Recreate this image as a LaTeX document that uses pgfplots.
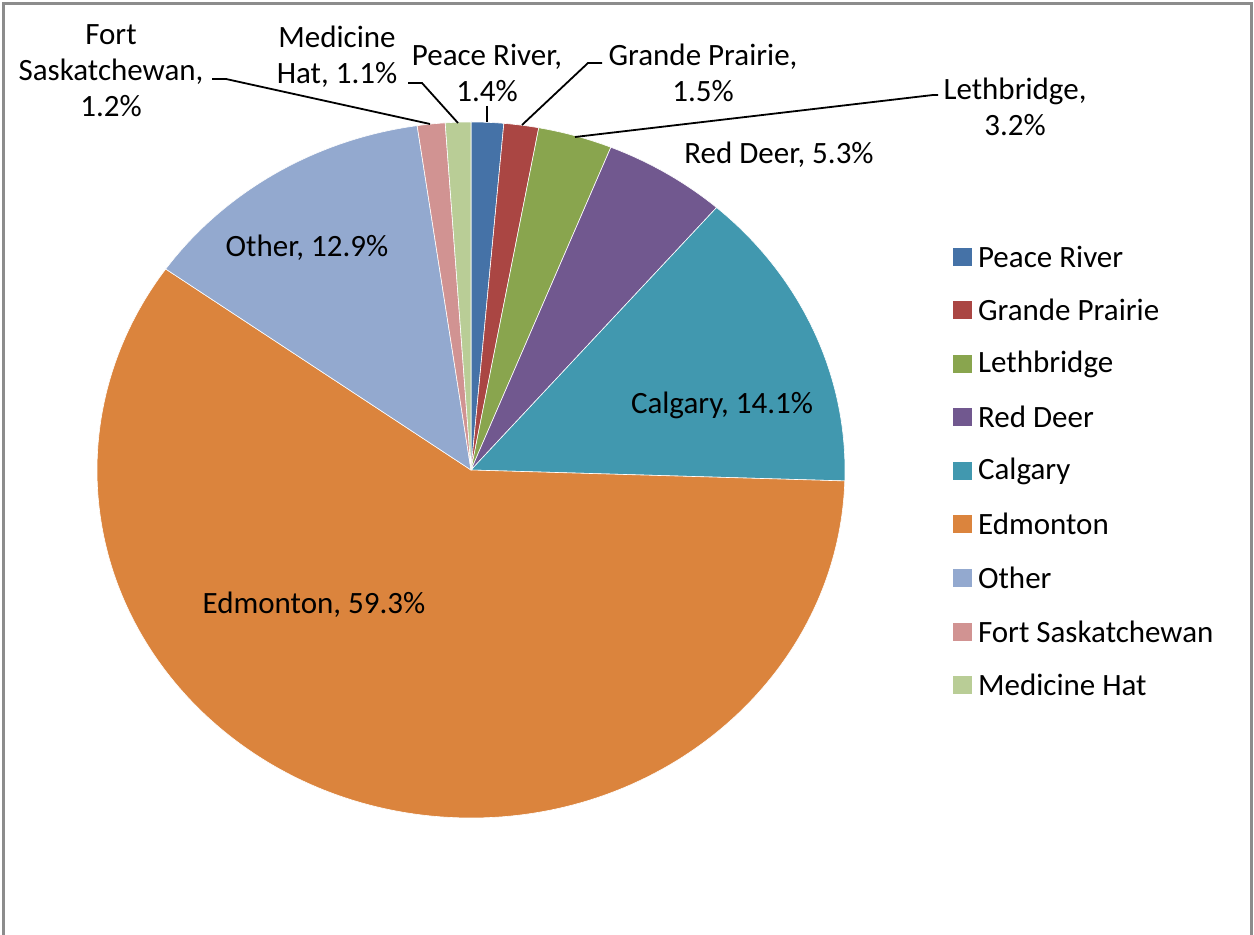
\documentclass[border=0pt]{standalone}
\usepackage{pgfplots}
\pgfplotsset{compat=1.18}
\usepackage{pgfplotstable}
\usepackage{fontspec}
\setmainfont{Carlito}

\definecolor{c0}{HTML}{4572A7}
\definecolor{c1}{HTML}{AA4643}
\definecolor{c2}{HTML}{89A54E}
\definecolor{c3}{HTML}{71588F}
\definecolor{c4}{HTML}{4198AF}
\definecolor{c5}{HTML}{DB843D}
\definecolor{c6}{HTML}{93A9CF}
\definecolor{c7}{HTML}{D19392}
\definecolor{c8}{HTML}{B9CD96}
\definecolor{frame}{RGB}{140,140,140}

% share of each city, clockwise from 12 o'clock
\pgfplotstableread{
idx value
0 1.4
1 1.5
2 3.2
3 5.3
4 14.1
5 59.3
6 12.9
7 1.2
8 1.1
}\piedata

\begin{document}
\begin{tikzpicture}[font=\fontsize{15.5}{18}\selectfont]
% start/end angles of the slices
\gdef\cum{0}
\foreach \i in {0,...,8}{%
  \pgfplotstablegetelem{\i}{value}\of\piedata
  \pgfmathsetmacro\s{90-3.6*\cum}
  \pgfmathsetmacro\e{90-3.6*(\cum+\pgfplotsretval)}
  \expandafter\xdef\csname sa\i\endcsname{\s}
  \expandafter\xdef\csname ea\i\endcsname{\e}
  \pgfmathsetmacro\c{\cum+\pgfplotsretval}
  \xdef\cum{\c}
}
\begin{axis}[
    scale only axis,
    width=627pt, height=467.5pt,
    xmin=0, xmax=1254, ymin=0, ymax=935,
    y dir=reverse,
    hide axis,
    clip=false
]
% slices
\pgfplotsinvokeforeach{0,...,8}{
  \fill[c#1, draw=white, line width=0.3pt] (axis cs:471,470)
    -- ++({\csname sa#1\endcsname}:187pt and 174pt)
    arc[start angle=\csname sa#1\endcsname, end angle=\csname ea#1\endcsname,
        x radius=187pt, y radius=174pt] -- cycle;
}

% leader lines
\draw[line width=0.9pt] (axis cs:212,79) -- (axis cs:226,79) -- (axis cs:430,124);
\draw[line width=0.9pt] (axis cs:408,83) -- (axis cs:422,83) -- (axis cs:458,123);
\draw[line width=0.9pt] (axis cs:487,106) -- (axis cs:487,122);
\draw[line width=0.9pt] (axis cs:602,63) -- (axis cs:588,63) -- (axis cs:522,125);
\draw[line width=0.9pt] (axis cs:938,95) -- (axis cs:933,95) -- (axis cs:575,137);

% data labels
\node[align=center] at (axis cs:111,71) {Fort\\Saskatchewan,\\1.2\%};
\node[align=center] at (axis cs:337,57) {Medicine\\Hat, 1.1\%};
\node[align=center] at (axis cs:487,73) {Peace River,\\1.4\%};
\node[align=center] at (axis cs:703,73) {Grande Prairie,\\1.5\%};
\node[align=center] at (axis cs:1015,107) {Lethbridge,\\3.2\%};
\node at (axis cs:779,155) {Red Deer, 5.3\%};
\node at (axis cs:722,405) {Calgary, 14.1\%};
\node at (axis cs:314,605) {Edmonton, 59.3\%};
\node at (axis cs:307,248) {Other, 12.9\%};

% legend
\fill[c0] (axis cs:953,248) rectangle (axis cs:972,266);
\fill[c1] (axis cs:953,301) rectangle (axis cs:972,319);
\fill[c2] (axis cs:953,355) rectangle (axis cs:972,373);
\fill[c3] (axis cs:953,408) rectangle (axis cs:972,426);
\fill[c4] (axis cs:953,462) rectangle (axis cs:972,480);
\fill[c5] (axis cs:953,515) rectangle (axis cs:972,533);
\fill[c6] (axis cs:953,569) rectangle (axis cs:972,587);
\fill[c7] (axis cs:953,623) rectangle (axis cs:972,641);
\fill[c8] (axis cs:953,676) rectangle (axis cs:972,694);
\node[anchor=west] at (axis cs:971,257) {Peace River};
\node[anchor=west] at (axis cs:971,310) {Grande Prairie};
\node[anchor=west] at (axis cs:971,364) {Lethbridge};
\node[anchor=west] at (axis cs:971,417) {Red Deer};
\node[anchor=west] at (axis cs:971,471) {Calgary};
\node[anchor=west] at (axis cs:971,524) {Edmonton};
\node[anchor=west] at (axis cs:971,578) {Other};
\node[anchor=west] at (axis cs:971,632) {Fort Saskatchewan};
\node[anchor=west] at (axis cs:971,685) {Medicine Hat};

% chart frame, open at the bottom
\draw[frame, line width=1.5pt] (axis cs:4,960) -- (axis cs:4,4) -- (axis cs:1251,4) -- (axis cs:1251,960);
\end{axis}
\pgfresetboundingbox
\path (current axis.south west) rectangle (current axis.north east);
\end{tikzpicture}
\end{document}
